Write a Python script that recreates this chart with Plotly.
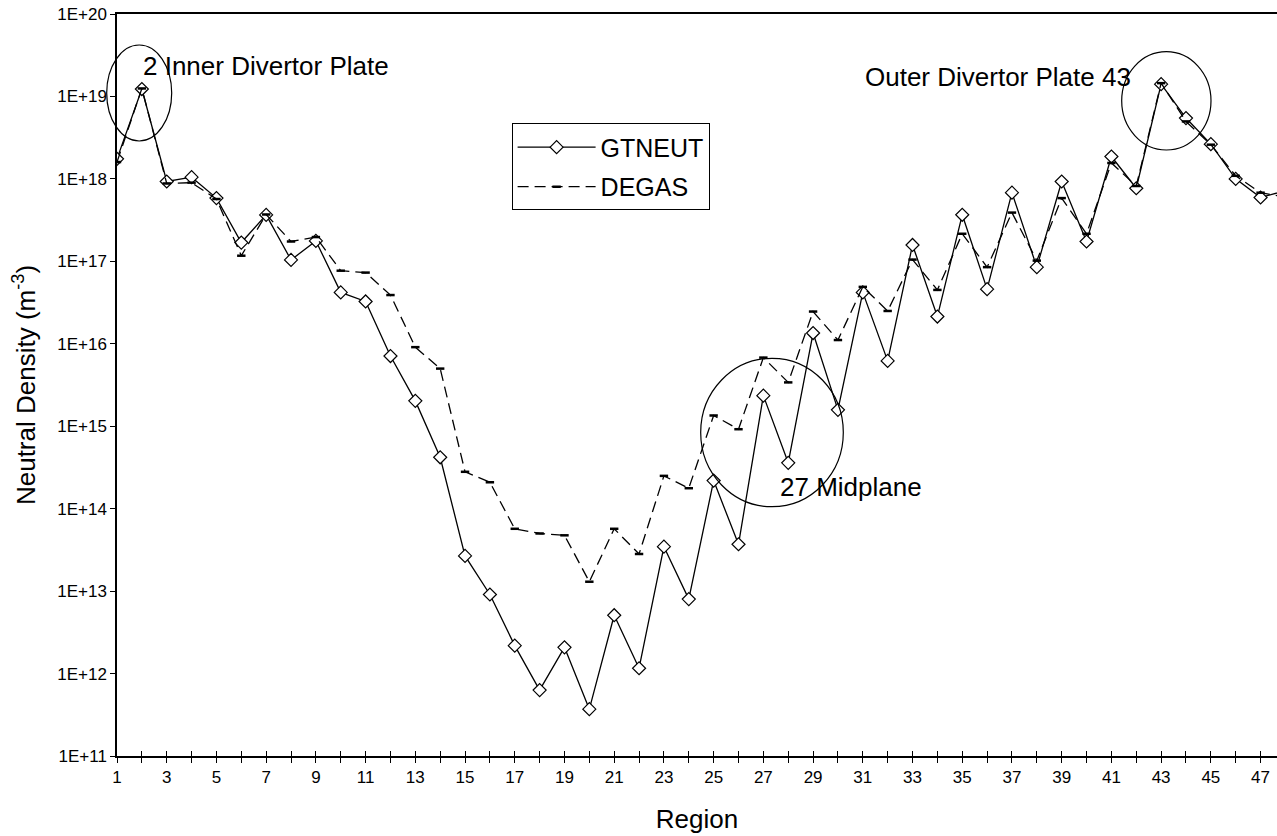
import plotly.graph_objects as go

# Region index along the boundary
regions = list(range(1, 49))

# Neutral density (m^-3) per region
gtneut = [1.75e18, 1.23e19, 9.3e17, 1.05e18, 5.85e17, 1.69e17, 3.66e17, 1.04e17,
          1.77e17, 4.2e16, 3.26e16, 7.1e15, 2.03e15, 4.2e14, 2.67e13, 9.1e12,
          2.18e12, 6.3e11, 2.08e12, 3.7e11, 5.1e12, 1.16e12, 3.46e13, 8.0e12,
          2.19e14, 3.7e13, 2.35e15, 3.6e14, 1.35e16, 1.58e15, 4.2e16, 6.2e15,
          1.58e17, 2.14e16, 3.67e17, 4.6e16, 6.8e17, 8.5e16, 9.3e17, 1.74e17,
          1.87e18, 7.7e17, 1.41e19, 5.47e18, 2.64e18, 1.0e18, 5.95e17, 7.2e17]

degas = [1.6e18, 1.25e19, 8.8e17, 9.0e17, 5.7e17, 1.17e17, 3.7e17, 1.74e17,
         1.97e17, 7.7e16, 7.3e16, 3.9e16, 9.1e15, 5.0e15, 2.8e14, 2.09e14,
         5.7e13, 5.0e13, 4.75e13, 1.3e13, 5.7e13, 2.82e13, 2.5e14, 1.77e14,
         1.35e15, 9.2e14, 6.8e15, 3.4e15, 2.46e16, 1.11e16, 4.9e16, 2.5e16,
         1.05e17, 4.5e16, 2.16e17, 8.5e16, 3.9e17, 1.02e17, 5.85e17, 2.16e17,
         1.56e18, 8.2e17, 1.45e19, 4.98e18, 2.6e18, 1.09e18, 6.8e17, 6.0e17]

# Axis tick labels
x_ticks = list(range(1, 48))
x_ticktext = [str(k) if k % 2 == 1 else "" for k in x_ticks]
y_exponents = list(range(11, 21))
y_ticks = [10.0 ** e for e in y_exponents]
y_ticktext = [f"1E+{e}" for e in y_exponents]

FONT = "Arial, Liberation Sans, sans-serif"

fig = go.Figure()
fig.add_trace(go.Scatter(
    x=regions, y=gtneut, name="GTNEUT", mode="lines+markers",
    legendgroup="a",
    line=dict(color="black", width=1.3),
    marker=dict(symbol="diamond", size=10, color="white",
                line=dict(color="black", width=1.2)),
))
fig.add_trace(go.Scatter(
    x=regions, y=degas, name="DEGAS", mode="lines+markers",
    legendgroup="b",
    line=dict(color="black", width=1.3, dash="11px,6px"),
    marker=dict(symbol="line-ew-open", size=6, color="black",
                line=dict(color="black", width=2.5)),
))
# Hidden carrier on the overlay axis that draws the inward half of the crossing ticks
fig.add_trace(go.Scatter(
    x=regions, y=gtneut, xaxis="x2", mode="lines", opacity=0,
    line=dict(width=0), showlegend=False, hoverinfo="skip",
))

# Plot area in pixels: left 117, right 1277, top 14, bottom 756
L, R, T, B = 117, 1277, 14, 756


def px(xp):
    return (xp - L) / (R - L)


def py(yp):
    return (B - yp) / (B - T)


# Highlight ellipses
for x0, x1, y0, y1 in [(106.7, 171.7, 45, 141),
                       (700.7, 843.3, 358.3, 506.7),
                       (1121.7, 1211, 51.7, 150)]:
    fig.add_shape(type="circle", xref="paper", yref="paper",
                  x0=px(x0), x1=px(x1), y0=py(y1), y1=py(y0),
                  line=dict(color="black", width=1.2))

for text, xl, yc in [("2 Inner Divertor Plate", 141, 66),
                     ("Outer Divertor Plate 43", 863, 77),
                     ("27 Midplane", 778, 487)]:
    fig.add_annotation(text=text, xref="paper", yref="paper",
                       x=px(xl), y=py(yc), xanchor="left", yanchor="middle",
                       showarrow=False, font=dict(size=26, color="black", family=FONT))

x_range = [1, 1 + (R - L) / 24.86]

fig.update_layout(
    width=1277, height=836,
    margin=dict(l=L, r=1277 - R, t=T, b=836 - B),
    paper_bgcolor="white", plot_bgcolor="white",
    font=dict(family=FONT, color="black"),
    showlegend=True,
    legend=dict(x=px(511.6), y=py(123.4), xanchor="left", yanchor="top",
                bordercolor="black", borderwidth=1, bgcolor="white",
                font=dict(size=25, family=FONT, color="black"),
                itemwidth=78, tracegroupgap=4),
    xaxis=dict(range=x_range, tickmode="array",
               tickvals=x_ticks, ticktext=x_ticktext,
               ticks="outside", ticklen=5, tickwidth=1, tickcolor="black",
               showline=True, linecolor="black", linewidth=1.5, mirror=True,
               showgrid=False, zeroline=False,
               tickfont=dict(size=17, family=FONT),
               title=dict(text="Region", font=dict(size=26, family=FONT), standoff=24)),
    xaxis2=dict(range=x_range, overlaying="x", anchor="y", side="bottom",
                tickmode="array", tickvals=x_ticks, showticklabels=False,
                ticks="inside", ticklen=5, tickwidth=1, tickcolor="black",
                showline=False, showgrid=False, zeroline=False),
    yaxis=dict(type="log", range=[11, 20], tickmode="array",
               tickvals=y_ticks, ticktext=y_ticktext,
               ticks="outside", ticklen=5, tickwidth=1, tickcolor="black",
               showline=True, linecolor="black", linewidth=1.5,
               showgrid=False, zeroline=False,
               tickfont=dict(size=17, family=FONT),
               title=dict(text="Neutral Density (m<sup>-3</sup>)",
                          font=dict(size=26, family=FONT), standoff=14)),
)

fig.write_html("out.html")
